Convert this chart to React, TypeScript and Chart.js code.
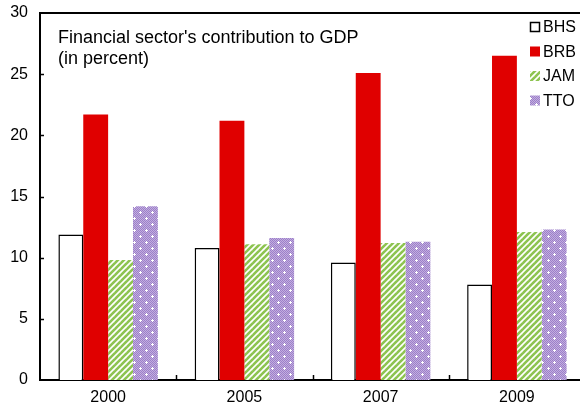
import React, { useEffect, useRef } from "react";
import { Chart, registerables } from "chart.js";

Chart.register(...registerables);

const categories = ["2000", "2005", "2007", "2009"];
const seriesNames = ["BHS", "BRB", "JAM", "TTO"];
const bhsValues = [11.9, 10.8, 9.6, 7.8];
const brbValues = [21.7, 21.2, 25.1, 26.5];
const jamValues = [9.8, 11.1, 11.2, 12.1];
const ttoValues = [14.2, 11.6, 11.3, 12.3];
const yTicks = [0, 5, 10, 15, 20, 25, 30];
const titleLines = ["Financial sector's contribution to GDP", "(in percent)"];

const FONT = "'Liberation Sans', Arial, sans-serif";

function makeStripePattern(ctx: CanvasRenderingContext2D) {
  const c = document.createElement("canvas");
  const s = 6;
  c.width = s;
  c.height = s;
  const g = c.getContext("2d")!;
  g.fillStyle = "#ffffff";
  g.fillRect(0, 0, s, s);
  g.strokeStyle = "#8dc450";
  g.lineWidth = 2.6;
  for (let k = -1; k <= 1; k++) {
    g.beginPath();
    g.moveTo(k * s - 1, s + 1);
    g.lineTo(k * s + s + 1, -1);
    g.stroke();
  }
  return ctx.createPattern(c, "repeat")!;
}

function makeDotPattern(ctx: CanvasRenderingContext2D) {
  const c = document.createElement("canvas");
  const s = 12;
  c.width = s;
  c.height = s;
  const g = c.getContext("2d")!;
  g.fillStyle = "#c2ade0";
  g.fillRect(0, 0, s, s);
  g.fillStyle = "#9c80c8";
  for (let x = 0; x < s; x++) {
    for (let y = 0; y < s; y++) {
      if ((x + y) % 2 === 0) g.fillRect(x, y, 1, 1);
    }
  }
  g.fillStyle = "#ffffff";
  const dots = [
    [2, 2],
    [8, 8],
  ];
  for (const [x, y] of dots) {
    g.fillRect(x, y - 1, 1, 3);
    g.fillRect(x - 1, y, 3, 1);
  }
  return ctx.createPattern(c, "repeat")!;
}

export default function App() {
  const ref = useRef<HTMLCanvasElement | null>(null);

  useEffect(() => {
    const canvas = ref.current!;
    const ctx = canvas.getContext("2d")!;
    const stripe = makeStripePattern(ctx);
    const dots = makeDotPattern(ctx);

    const fills: any[] = ["#ffffff", "#e00000", stripe, dots];
    const borders = ["#000000", "#e00000", "rgba(0,0,0,0)", "rgba(0,0,0,0)"];
    const borderWidths = [1.5, 0, 0, 0];
    const values = [bhsValues, brbValues, jamValues, ttoValues];

    const decorations = {
      id: "decorations",
      afterDraw(chart: any) {
        const c = chart.ctx as CanvasRenderingContext2D;
        const a = chart.chartArea;
        const ys = chart.scales.y;
        c.save();
        // top line
        c.strokeStyle = "#000000";
        c.lineWidth = 2;
        c.beginPath();
        c.moveTo(a.left - 1, a.top);
        c.lineTo(a.right, a.top);
        c.stroke();
        // y ticks inside
        c.lineWidth = 1.5;
        for (const v of yTicks) {
          if (v === 0 || v === 30) continue;
          const y = Math.round(ys.getPixelForValue(v)) + 0.5;
          c.beginPath();
          c.moveTo(a.left, y);
          c.lineTo(a.left + 4, y);
          c.stroke();
        }
        // x category boundary ticks
        const n = categories.length;
        const w = (a.right - a.left) / n;
        for (let i = 1; i < n; i++) {
          const x = Math.round(a.left + i * w) + 0.5;
          c.beginPath();
          c.moveTo(x, a.bottom);
          c.lineTo(x, a.bottom - 5);
          c.stroke();
        }
        // title
        c.fillStyle = "#000000";
        c.font = `18px ${FONT}`;
        c.textAlign = "left";
        c.textBaseline = "middle";
        titleLines.forEach((t, i) => {
          c.fillText(t, a.left + 18, 38 + i * 21);
        });
        // legend
        c.font = `16px ${FONT}`;
        seriesNames.forEach((name, i) => {
          const cy = 27 + i * 24.5;
          const bx = 530;
          const size = 10;
          c.fillStyle = fills[i];
          c.fillRect(bx, cy - size / 2, size, size);
          if (i === 0) {
            c.strokeStyle = "#000000";
            c.lineWidth = 1.5;
            c.strokeRect(bx + 0.5, cy - size / 2 + 0.5, size - 1, size - 1);
          }
          c.fillStyle = "#000000";
          c.fillText(name, bx + 13, cy + 1);
        });
        c.restore();
      },
    };

    const chart = new Chart(ctx, {
      type: "bar",
      data: {
        labels: categories,
        datasets: seriesNames.map((name, i) => ({
          label: name,
          data: values[i],
          backgroundColor: fills[i],
          borderColor: borders[i],
          borderWidth: borderWidths[i],
          borderSkipped: "start",
          categoryPercentage: 0.73,
          barPercentage: 1.0,
        })),
      },
      options: {
        responsive: false,
        animation: false,
        devicePixelRatio: 1,
        layout: { padding: { top: 13, left: 0, right: 0, bottom: 0 } },
        plugins: {
          legend: { display: false },
          tooltip: { enabled: false },
          title: { display: false },
        },
        scales: {
          x: {
            grid: { display: false, drawTicks: false },
            border: { display: true, color: "#000000", width: 2 },
            ticks: {
              color: "#000000",
              font: { family: FONT, size: 16 },
              padding: 8,
            },
            afterFit(scale: any) {
              scale.height = 31;
              scale.paddingLeft = 0;
              scale.paddingRight = 0;
            },
          },
          y: {
            min: 0,
            max: 30,
            grid: { display: false, drawTicks: false },
            border: { display: true, color: "#000000", width: 2 },
            ticks: {
              stepSize: 5,
              color: "#000000",
              font: { family: FONT, size: 16 },
              padding: 12,
            },
            afterFit(scale: any) {
              scale.width = 40;
              scale.paddingTop = 0;
              scale.paddingBottom = 0;
            },
          },
        },
      },
      plugins: [decorations],
    });

    return () => chart.destroy();
  }, []);

  return (
    <div
      style={{
        position: "fixed",
        left: 0,
        top: 0,
        width: 580,
        height: 411,
        overflow: "hidden",
        background: "#ffffff",
      }}
    >
      <canvas ref={ref} width={585} height={411} style={{ display: "block" }} />
    </div>
  );
}
